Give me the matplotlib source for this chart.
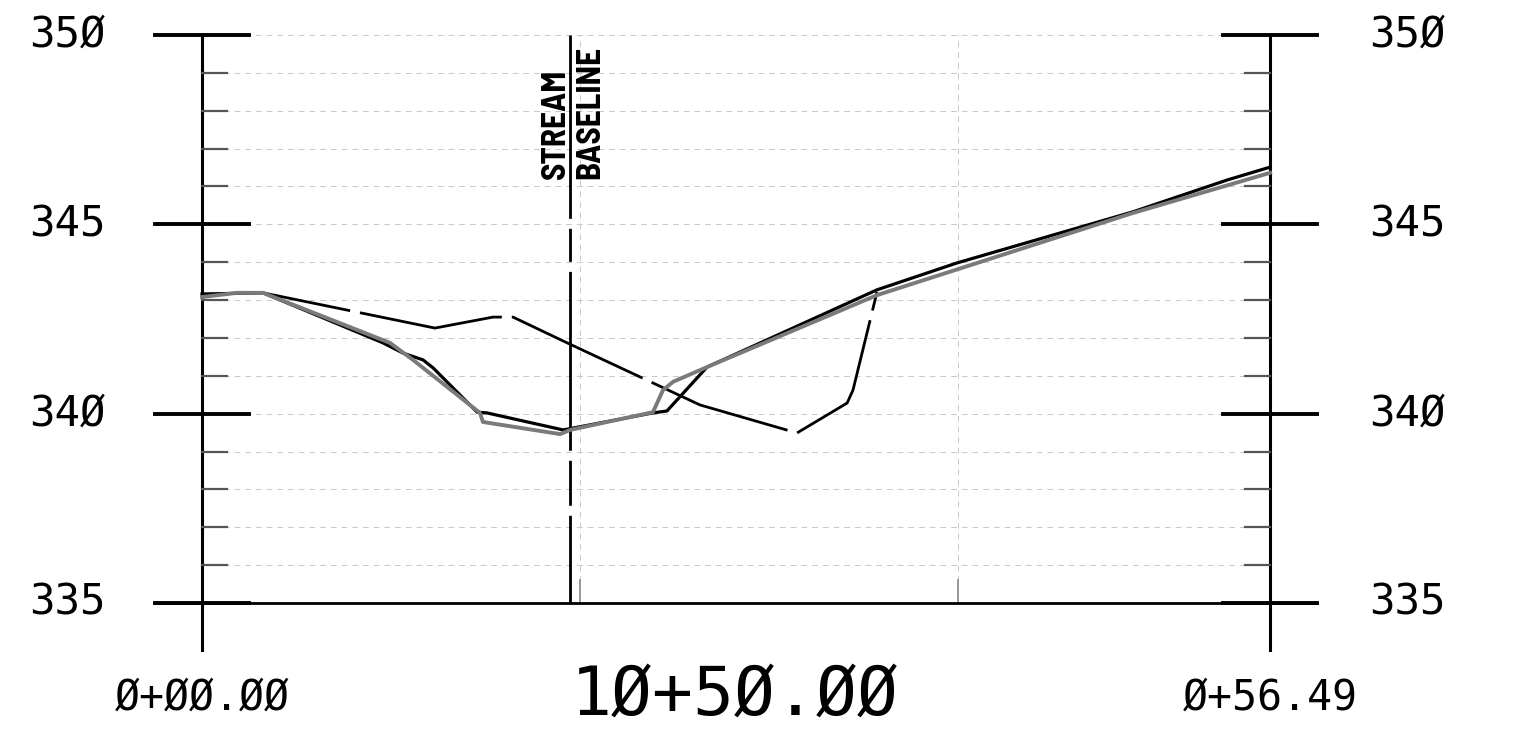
import numpy as np
import matplotlib
matplotlib.use("Agg")
import matplotlib.pyplot as plt

# station (ft) / elevation (ft)
sta_exist = [0.0, 3.23, 9.57, 10.63, 11.69, 12.22, 14.55, 15.07, 19.10, 23.85, 24.59,
             26.71, 35.70, 39.93, 49.24, 54.22, 56.49]
elev_exist = [343.16, 343.19, 341.87, 341.60, 341.42, 341.21, 340.04, 340.02, 339.57, 340.02,
              340.07, 341.23, 343.27, 343.98, 345.33, 346.17, 346.51]

sta_design = [0.0, 1.85, 3.23, 9.94, 11.16, 14.70, 14.86, 18.94, 19.47, 23.85, 24.07, 24.38,
              24.91, 26.71, 35.70, 49.24, 56.49]
elev_design = [343.08, 343.19, 343.19, 341.87, 341.42, 340.02, 339.78, 339.46, 339.57, 340.04,
               340.28, 340.62, 340.84, 341.23, 343.13, 345.30, 346.36]

sta_dashed = [3.23, 12.32, 15.39, 16.45, 19.31, 26.34, 31.47, 34.12, 34.43, 35.70]
elev_dashed = [343.19, 342.26, 342.55, 342.55, 341.87, 340.23, 339.49, 340.28, 340.62, 343.21]

sta_end = 56.49
baseline_sta = 19.47
elev_ticks = [335, 340, 345, 350]
elev_labels = ["335", "340", "345", "350"]
grid_sta = [20, 40]
label_start = "0+00.00"
label_end = "0+56.49"
label_center = "10+50.00"


def cad(s):
    # CAD style slashed zero
    return s.replace("0", "\u00d8")


fig = plt.figure(figsize=(15.34, 7.37), dpi=100)
ax = fig.add_axes([0, 0, 1, 1])
ax.set_xlim(-10.684, 70.45)
ax.set_ylim(331.461, 350.924)
ax.axis("off")

grey = "#c8c8c8"
# 1 ft grid
for e in range(336, 351):
    ax.plot([0, sta_end], [e, e], color=grey, lw=0.7, ls=(0, (6, 5)), zorder=1)
for s in grid_sta:
    ax.plot([s, s], [335, 350], color=grey, lw=0.7, ls=(0, (6, 5)), zorder=1)
    ax.plot([s, s], [335, 335.6], color="#999999", lw=1.4, zorder=1)

# axes frame
ax.plot([0, 0], [333.76, 350], color="black", lw=2.2, zorder=3)
ax.plot([sta_end, sta_end], [333.76, 350], color="black", lw=2.2, zorder=3)
ax.plot([-2.5, sta_end + 2.5], [335, 335], color="black", lw=2.0, zorder=3)
for e in range(336, 350):
    if e % 5:
        ax.plot([0, 1.3], [e, e], color="#555555", lw=1.6, zorder=3)
        ax.plot([sta_end - 1.3, sta_end], [e, e], color="#555555", lw=1.6, zorder=3)
for e, lab in zip(elev_ticks, elev_labels):
    ax.plot([-2.5, 2.5], [e, e], color="black", lw=2.8, zorder=3)
    ax.plot([sta_end - 2.5, sta_end + 2.5], [e, e], color="black", lw=2.8, zorder=3)
    ax.text(-7.14, e, cad(lab), ha="center", va="center", fontsize=30.5,
            family="DejaVu Sans Mono")
    ax.text(63.74, e, cad(lab), ha="center", va="center", fontsize=30.5,
            family="DejaVu Sans Mono")

# stream baseline
ax.plot([baseline_sta, baseline_sta], [350, 335], color="black", lw=2.0, zorder=4,
        ls=(0, (66, 3.6, 11.9, 3.6, 64.4, 3.6, 16.2, 3.6, 200, 0)))
narrow = ["Liberation Sans Narrow", "Barlow Semi Condensed", "DejaVu Sans"]
ax.text(baseline_sta - 0.75, 346.2, "STREAM", rotation=90, ha="center", va="bottom",
        fontsize=24, fontweight="bold", family=narrow)
ax.text(baseline_sta + 1.05, 346.2, "BASELINE", rotation=90, ha="center", va="bottom",
        fontsize=24, fontweight="bold", family=narrow)

# surfaces
ax.plot(sta_exist, elev_exist, color="black", lw=2.3, zorder=5, solid_joinstyle="round")
ax.plot(sta_design, elev_design, color="#7a7a7a", lw=2.8, zorder=6, solid_joinstyle="round")
ax.plot(sta_dashed, elev_dashed, color="black", lw=2.0, zorder=5, ls=(20, (52, 3.6)))

# station labels
ax.text(0, 332.49, cad(label_start), ha="center", va="center", fontsize=30,
        family="DejaVu Sans Mono")
ax.text(sta_end, 332.49, cad(label_end), ha="center", va="center", fontsize=30,
        family="DejaVu Sans Mono")
ax.text(28.2, 332.55, cad(label_center), ha="center", va="center", fontsize=49,
        family="DejaVu Sans Mono")

fig.savefig("out.png", dpi=100)
